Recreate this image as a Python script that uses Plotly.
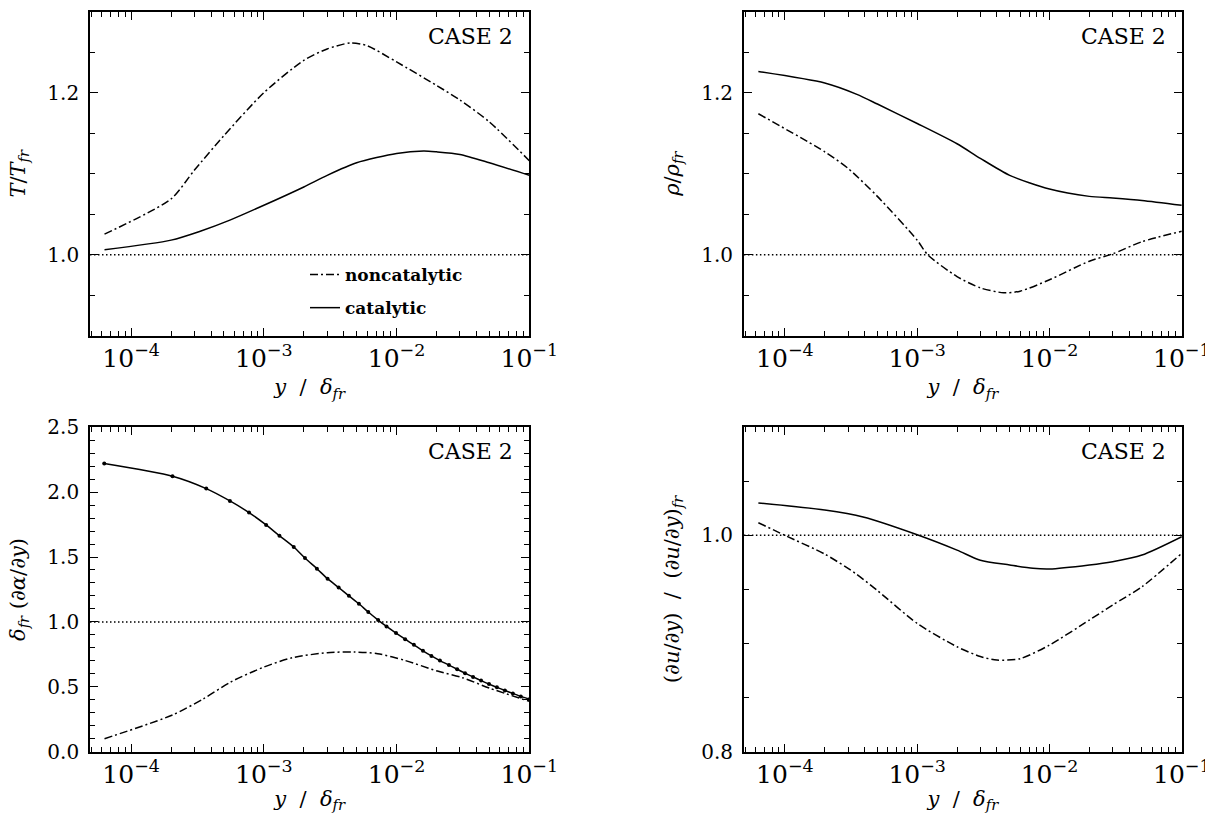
import plotly.graph_objects as go

# ---------------- data ----------------
# Panel 1: T / T_fr
t_x_non = [6.3e-5, 2e-4, 3e-4, 5e-4, 1e-3, 2e-3, 3e-3, 4.5e-3, 6e-3, 1e-2, 2e-2, 3e-2, 5e-2, 1e-1]
t_y_non = [1.0254, 1.0689, 1.1045, 1.147, 1.200, 1.240, 1.254, 1.2615, 1.258, 1.238, 1.209, 1.191, 1.164, 1.116]
t_x_cat = [6.3e-5, 2e-4, 3.28e-4, 5.61e-4, 1e-3, 2e-3, 3e-3, 5e-3, 1e-2, 1.6e-2, 2e-2, 3e-2, 5e-2, 1e-1]
t_y_cat = [1.006, 1.018, 1.0287, 1.043, 1.061, 1.0836, 1.098, 1.1135, 1.125, 1.128, 1.127, 1.1238, 1.1135, 1.098]

# Panel 2: rho / rho_fr
r_x_cat = [6.3e-5, 2e-4, 3.5e-4, 5e-4, 1e-3, 2e-3, 3e-3, 5e-3, 1e-2, 2e-2, 3e-2, 5e-2, 1e-1]
r_y_cat = [1.2262, 1.212, 1.198, 1.186, 1.162, 1.137, 1.119, 1.098, 1.081, 1.072, 1.070, 1.067, 1.061]
r_x_non = [6.3e-5, 2e-4, 3e-4, 5e-4, 1e-3, 1.2e-3, 2e-3, 3e-3, 4.5e-3, 6e-3, 1e-2, 2e-2, 3e-2, 5e-2, 1e-1]
r_y_non = [1.174, 1.127, 1.1066, 1.072, 1.018, 1.0, 0.973, 0.959, 0.953, 0.955, 0.969, 0.992, 1.001, 1.016, 1.029]

# Panel 3: delta_fr (d alpha / dy)
a_x_cat = [6.27e-5, 2.05e-4, 3.68e-4, 5.55e-4, 7.73e-4, 1.04e-3, 1.31e-3, 1.68e-3, 2.04e-3, 2.51e-3,
           3.02e-3, 3.66e-3, 4.37e-3, 5.2e-3, 6.12e-3, 7.26e-3, 8.4e-3, 9.9e-3, 1.16e-2, 1.35e-2,
           1.58e-2, 1.83e-2, 2.12e-2, 2.48e-2, 2.86e-2, 3.28e-2, 3.77e-2, 4.33e-2, 4.97e-2, 5.7e-2,
           6.55e-2, 7.52e-2, 8.63e-2, 1e-1]
a_y_cat = [2.220, 2.122, 2.027, 1.932, 1.842, 1.747, 1.664, 1.577, 1.492, 1.410,
           1.333, 1.265, 1.201, 1.140, 1.076, 1.014, 0.965, 0.914, 0.867, 0.823,
           0.777, 0.738, 0.702, 0.667, 0.635, 0.605, 0.576, 0.548, 0.521, 0.496,
           0.472, 0.449, 0.426, 0.404]
a_x_non = [6.3e-5, 2.05e-4, 3.5e-4, 5.6e-4, 1e-3, 1.64e-3, 3e-3, 4.8e-3, 7.2e-3, 1.15e-2, 2.03e-2, 3.14e-2, 5e-2, 1e-1]
a_y_non = [0.10, 0.283, 0.407, 0.536, 0.652, 0.724, 0.763, 0.768, 0.755, 0.704, 0.621, 0.570, 0.490, 0.388]

# Panel 4: (du/dy) / (du/dy)_fr
u_x_cat = [6.3e-5, 2e-4, 3.9e-4, 1e-3, 2e-3, 3e-3, 5e-3, 7.5e-3, 1e-2, 2e-2, 3e-2, 5e-2, 1e-1]
u_y_cat = [1.030, 1.0234, 1.017, 1.0006, 0.9864, 0.977, 0.9726, 0.9695, 0.9689, 0.9726, 0.9757, 0.9818, 0.9988]
u_x_non = [6.3e-5, 1e-4, 2e-4, 3.4e-4, 5e-4, 1e-3, 2e-3, 3e-3, 4e-3, 6e-3, 1e-2, 2e-2, 3e-2, 5e-2, 1e-1]
u_y_non = [1.0117, 1.0, 0.9827, 0.965, 0.949, 0.9186, 0.897, 0.888, 0.8847, 0.886, 0.8986, 0.9217, 0.9356, 0.9525, 0.9834]

series_names = ["noncatalytic", "catalytic"]
case_label = "CASE 2"

# ---------------- styling ----------------
FONT = "DejaVu Serif"
DASHDOT = "8px,3px,2px,3px"
LW = 1.5

fig = go.Figure()

def add_pair(xn, yn, xc, yc, ax, show, markers=False):
    xa, ya = ("x", "y") if ax == 1 else (f"x{ax}", f"y{ax}")
    fig.add_trace(go.Scatter(x=xn, y=yn, mode="lines", name=series_names[0],
                             line=dict(color="black", width=LW, dash=DASHDOT, shape="spline", smoothing=0.7),
                             xaxis=xa, yaxis=ya, showlegend=show, legendgroup="n"))
    fig.add_trace(go.Scatter(x=xc, y=yc, mode="lines+markers" if markers else "lines",
                             name=series_names[1],
                             line=dict(color="black", width=LW, shape="spline", smoothing=0.7),
                             marker=dict(color="black", size=4),
                             xaxis=xa, yaxis=ya, showlegend=show, legendgroup="c"))

add_pair(t_x_non, t_y_non, t_x_cat, t_y_cat, 1, True)
add_pair(r_x_non, r_y_non, r_x_cat, r_y_cat, 2, False)
add_pair(a_x_non, a_y_non, a_x_cat, a_y_cat, 3, False, markers=True)
add_pair(u_x_non, u_y_non, u_x_cat, u_y_cat, 4, False)

xl = [90 / 1205, 529.3 / 1205]
xr = [743.9 / 1205, 1181.8 / 1205]
yt = [1 - 335.7 / 813, 1 - 11.7 / 813]
yb = [1 - 751.7 / 813, 1 - 427.2 / 813]

xtitle = "<i>y</i>  /  <i>δ</i><sub><i>fr</i></sub>"

def xaxis(domain, anchor):
    return dict(domain=domain, anchor=anchor, type="log", range=[-4.31, -1],
                dtick=1, exponentformat="power", showexponent="all", automargin=False,
                ticklabeloverflow="allow",
                ticks="inside", ticklen=8, tickwidth=1.3, tickcolor="black",
                minor=dict(ticks="inside", ticklen=5, dtick="D1", tickcolor="black", tickwidth=1.1),
                showline=True, linecolor="black", linewidth=1.7, mirror="allticks",
                showgrid=False, zeroline=False,
                tickfont=dict(family=FONT, size=20, color="black"),
                title=dict(text=xtitle, font=dict(family=FONT, size=21, color="black"), standoff=8))

def yaxis(domain, anchor, rng, dt, mdt, title):
    return dict(domain=domain, anchor=anchor, range=rng, dtick=dt, tick0=0, tickformat=".1f",
                automargin=False, ticklabelstandoff=5, ticklabeloverflow="allow",
                ticks="inside", ticklen=8, tickwidth=1.3, tickcolor="black",
                minor=dict(ticks="inside", ticklen=5, dtick=mdt, tick0=0, tickcolor="black", tickwidth=1.1),
                showline=True, linecolor="black", linewidth=1.7, mirror="allticks",
                showgrid=False, zeroline=False,
                tickfont=dict(family=FONT, size=20, color="black"),
                title=dict(text=title, font=dict(family=FONT, size=21, color="black"), standoff=16))

fig.update_layout(
    template="none",
    width=1205, height=813,
    margin=dict(l=0, r=0, t=0, b=0, autoexpand=False),
    paper_bgcolor="white", plot_bgcolor="white",
    font=dict(family=FONT, color="black"),
    xaxis=xaxis(xl, "y"), yaxis=yaxis(yt, "x", [0.9, 1.3], 0.2, 0.05,
                                      "<i>T</i>/<i>T</i><sub><i>fr</i></sub>"),
    xaxis2=xaxis(xr, "y2"), yaxis2=yaxis(yt, "x2", [0.9, 1.3], 0.2, 0.05,
                                         "<i>ρ</i>/<i>ρ</i><sub><i>fr</i></sub>"),
    xaxis3=xaxis(xl, "y3"), yaxis3=yaxis(yb, "x3", [0.0, 2.5], 0.5, 0.1,
                                         "<i>δ</i><sub><i>fr</i></sub> (∂<i>α</i>/∂<i>y</i>)"),
    xaxis4=xaxis(xr, "y4"), yaxis4=yaxis(yb, "x4", [0.8, 1.1], 0.2, 0.05,
                                         "(∂<i>u</i>/∂<i>y</i>)  /  (∂<i>u</i>/∂<i>y</i>)<sub><i>fr</i></sub>"),
    legend=dict(x=305 / 1205, y=1 - 257 / 813, xanchor="left", yanchor="top",
                bgcolor="rgba(0,0,0,0)", font=dict(family=FONT, size=17, color="black", weight="bold"),
                itemwidth=30, tracegroupgap=8),
    showlegend=True,
)

for i in range(1, 5):
    xs = "x" if i == 1 else f"x{i}"
    ys = "y" if i == 1 else f"y{i}"
    fig.add_shape(type="line", xref=f"{xs} domain", x0=0, x1=1, yref=ys, y0=1, y1=1,
                  line=dict(color="black", width=1.5, dash="1.5px,2.5px"), layer="below")
    fig.add_annotation(text=case_label, xref=f"{xs} domain", yref=f"{ys} domain",
                       x=1, y=1, xanchor="right", yanchor="top", xshift=-14, yshift=-10,
                       showarrow=False, font=dict(family=FONT, size=22, color="black"))

fig.write_html("out.html", config={"displayModeBar": False},
               post_script="document.body.style.margin='0';document.body.style.overflow='hidden';")
